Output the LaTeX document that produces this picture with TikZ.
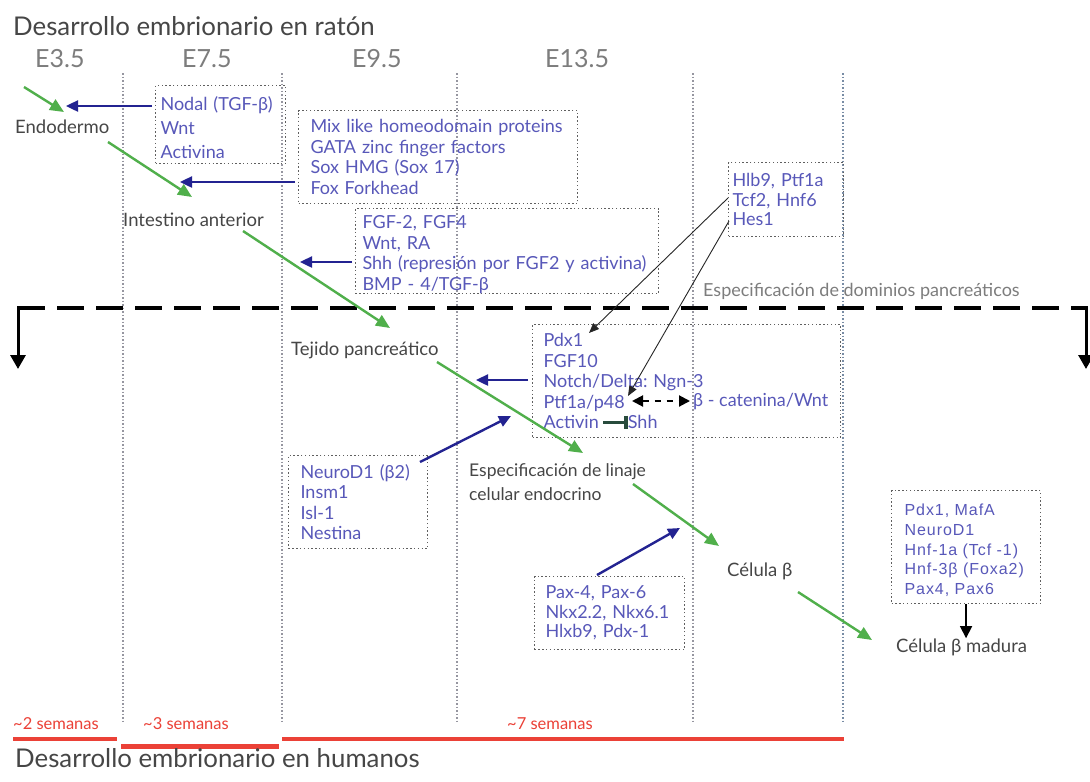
\documentclass[tikz,border=0pt]{standalone}
\usepackage{fontspec}
\setmainfont{Lato}
\newfontfamily\mafafont[LetterSpace=6]{Liberation Sans}
\usetikzlibrary{arrows.meta}
\frenchspacing
\definecolor{txtblue}{RGB}{88,88,185}
\definecolor{arrblue}{RGB}{35,35,145}
\definecolor{arrgreen}{RGB}{80,175,75}
\definecolor{txtgray}{RGB}{70,70,70}
\definecolor{ltgray}{RGB}{125,125,125}
\definecolor{redc}{RGB}{235,65,55}
\definecolor{vlinec}{RGB}{150,150,160}
\definecolor{vlineb}{RGB}{120,140,165}
\definecolor{boxc}{RGB}{95,95,95}
\definecolor{inhibc}{RGB}{40,75,60}
\begin{document}
\begin{tikzpicture}[x=1pt,y=-1pt,
  blk/.style={font=\fontsize{18.5}{22}\selectfont, text=txtgray, inner sep=0pt, anchor=base west},
  hdr/.style={font=\fontsize{25.8}{28}\selectfont, text=txtgray, inner sep=0pt, anchor=base west},
  eday/.style={font=\fontsize{25}{28}\selectfont, text=ltgray, inner sep=0pt, anchor=base west},
  wk/.style={font=\fontsize{16.5}{18}\selectfont, text=redc, inner sep=0pt, anchor=base west},
  gbox/.style={draw=boxc, line width=1.1pt, dash pattern=on 1.4pt off 2.4pt, text=txtblue,
     font=\fontsize{18}{20.5}\selectfont, align=left, anchor=north west, inner ysep=0pt},
  vdot/.style={draw=vlinec, line width=1.1pt, dash pattern=on 1.5pt off 2pt},
  garrow/.style={draw=arrgreen, line width=2.4pt, -{Triangle[length=14pt,width=12pt]}},
  barrow/.style={draw=arrblue, line width=2.4pt, -{Triangle[length=12pt,width=11pt]}},
  karrow/.style={draw=black!85, line width=0.9pt, -{Triangle[length=10pt,width=8pt]}},
  redline/.style={draw=redc, line width=3.3pt},
]
\useasboundingbox (0,0) rectangle (1090,782);
\fill[white] (0,0) rectangle (1090,782);

% vertical dotted time lines
\draw[vdot] (123,73) -- (123,723);
\draw[vdot] (282,73) -- (282,723);
\draw[vdot] (457,73) -- (457,723);
\draw[vdot] (693,73) -- (693,723);
\draw[vdot, draw=vlineb] (843,73) -- (843,723);

% headers
\node[hdr] (title) at (13,35) {Desarrollo embrionario en ratón};
\node[eday] (e35) at (35,67) {E3.5};
\node[eday] (e75) at (182,67) {E7.5};
\node[eday] (e95) at (352,67) {E9.5};
\node[eday] (e135) at (545,67) {E13.5};

% black stage labels
\node[blk] (endo) at (15,133.5) {Endodermo};
\node[blk] (intest) at (123,226.5) {Intestino anterior};
\node[blk] (tejido) at (291,355.5) {Tejido pancreático};
\node[blk, font=\fontsize{17.5}{24}\selectfont, align=left] (espec) at (469,500) {Especificación de linaje\\celular endocrino};
\node[blk] (celb) at (727,576) {Célula β};
\node[blk] (celbm) at (896,652) {Célula β madura};
\node[blk, font=\fontsize{18}{22}\selectfont, text=ltgray] (dom) at (703,296) {Especificación de dominios pancreáticos};

% boxes
\node[gbox, font=\fontsize{18}{24}\selectfont, inner xsep=5pt, text width=120pt, minimum height=78pt] (nodal) at (155,85)
  {\rule{0pt}{20pt}Nodal (TGF-β)\\Wnt\\Activina};
\node[gbox, inner xsep=12pt, text width=255pt, minimum height=93pt] (mix) at (298,110)
  {Mix like homeodomain proteins\\GATA zinc finger factors\\Sox HMG (Sox 17)\\Fox Forkhead};
\node[gbox, inner xsep=7pt, text width=289pt, minimum height=85pt] (fgf) at (355,208)
  {\rule{0pt}{20pt}FGF-2, FGF4\\Wnt, RA\\Shh (represión por FGF2 y activina)\\BMP - 4/TGF-β};
\node[gbox, font=\fontsize{18}{19.8}\selectfont, inner xsep=4pt, text width=107pt, minimum height=74pt] (hlb) at (728,162)
  {Hlb9, Ptf1a\\Tcf2, Hnf6\\Hes1};
\node[gbox, inner xsep=11pt, text width=286pt, minimum height=113pt] (pdx) at (532,324)
  {Pdx1\\FGF10\\Notch/Delta: Ngn-3\\Ptf1a/p48\\Activin\hspace{29pt}Shh};
\node[gbox, inner xsep=12pt, text width=115pt, minimum height=93pt] (neuro) at (288,455)
  {NeuroD1 (β2)\\Insm1\\Isl-1\\Nestina};
\node[gbox, font=\fontsize{18}{19.3}\selectfont, inner xsep=11pt, text width=128pt, minimum height=73pt] (pax) at (534,576)
  {Pax-4, Pax-6\\Nkx2.2, Nkx6.1\\Hlxb9, Pdx-1};
\node[gbox, font=\mafafont\fontsize{16}{19.7}\selectfont, inner xsep=13pt, text width=123pt, minimum height=113pt] (mafa) at (891,490)
  {\rule{0pt}{18pt}Pdx1, MafA\\NeuroD1\\Hnf-1a (Tcf -1)\\Hnf-3β (Foxa2)\\Pax4, Pax6};
\node[font=\fontsize{18}{20}\selectfont, text=txtblue, inner sep=0pt, anchor=base west] (bcat) at (693,406) {β - catenina/Wnt};

% dashed separator
\draw[line width=3.8pt, dash pattern=on 27pt off 12pt] (18,308) -- (1086,308);
\coordinate (ldown) at (18,369);
\coordinate (rdown) at (1086,369);
\draw[line width=3pt, -{Triangle[length=14pt,width=15pt]}] (18,306.1) -- (ldown);
\draw[line width=3pt, -{Triangle[length=14pt,width=15pt]}] (1086,306.1) -- (rdown);

% coordinates for connectors
\coordinate (g1s) at (24,87);   \coordinate (g1e) at (64,112);
\coordinate (g2s) at (108,142); \coordinate (g2e) at (192,197);
\coordinate (g3s) at (243,231); \coordinate (g3e) at (390,328);
\coordinate (g4s) at (437,362); \coordinate (g4e) at (583,453);
\coordinate (g5s) at (633,484); \coordinate (g5e) at (719,546);
\coordinate (g6s) at (798,592); \coordinate (g6e) at (872,640);
\draw[garrow] (g1s) -- (g1e);
\draw[garrow] (g2s) -- (g2e);
\draw[garrow] (g3s) -- (g3e);
\draw[garrow] (g4s) -- (g4e);
\draw[garrow] (g5s) -- (g5e);
\draw[garrow] (g6s) -- (g6e);

\coordinate (b1s) at (152,106); \coordinate (b1e) at (66,106);
\coordinate (b2s) at (295,182); \coordinate (b2e) at (180,182);
\coordinate (b3s) at (352,262); \coordinate (b3e) at (300,262);
\coordinate (b4s) at (528,380); \coordinate (b4e) at (476,380);
\coordinate (b5s) at (420,462); \coordinate (b5e) at (511,416);
\coordinate (b6s) at (597,575); \coordinate (b6e) at (680,528);
\draw[barrow] (b1s) -- (b1e);
\draw[barrow] (b2s) -- (b2e);
\draw[barrow] (b3s) -- (b3e);
\draw[barrow] (b4s) -- (b4e);
\draw[barrow] (b5s) -- (b5e);
\draw[barrow] (b6s) -- (b6e);

\coordinate (k1s) at (728,198); \coordinate (k1e) at (589,333);
\coordinate (k2s) at (729,221); \coordinate (k2e) at (628,396);
\draw[karrow] (k1s) -- (k1e);
\draw[karrow] (k2s) -- (k2e);

\coordinate (ptfr) at (632,401); \coordinate (bcatl) at (690,401);
\draw[line width=2pt, dash pattern=on 6pt off 6pt, {Triangle[length=11pt,width=11pt]}-{Triangle[length=11pt,width=11pt]}] (ptfr) -- (bcatl);
\coordinate (actr) at (603,422); \coordinate (shhl) at (628,422);
\draw[draw=inhibc, line width=3pt, -{Bar[width=13pt,line width=4pt]}] (actr) -- (shhl);

\draw[line width=1.6pt, -{Triangle[length=12pt,width=12pt]}] (mafa.south) -- (celbm.north -| mafa.south);

% human timeline
\node[wk] (w2) at (13,729) {\textasciitilde 2 semanas};
\node[wk] (w3) at (143,729) {\textasciitilde 3 semanas};
\node[wk] (w7) at (507,729) {\textasciitilde 7 semanas};
\draw[redline] (13,739) -- (117,739);
\draw[redline, line width=5pt] (121,746) -- (279,746);
\draw[redline] (282,739) -- (844,739);
\node[hdr] (hum) at (15,767) {Desarrollo embrionario en humanos};
\end{tikzpicture}
\end{document}
